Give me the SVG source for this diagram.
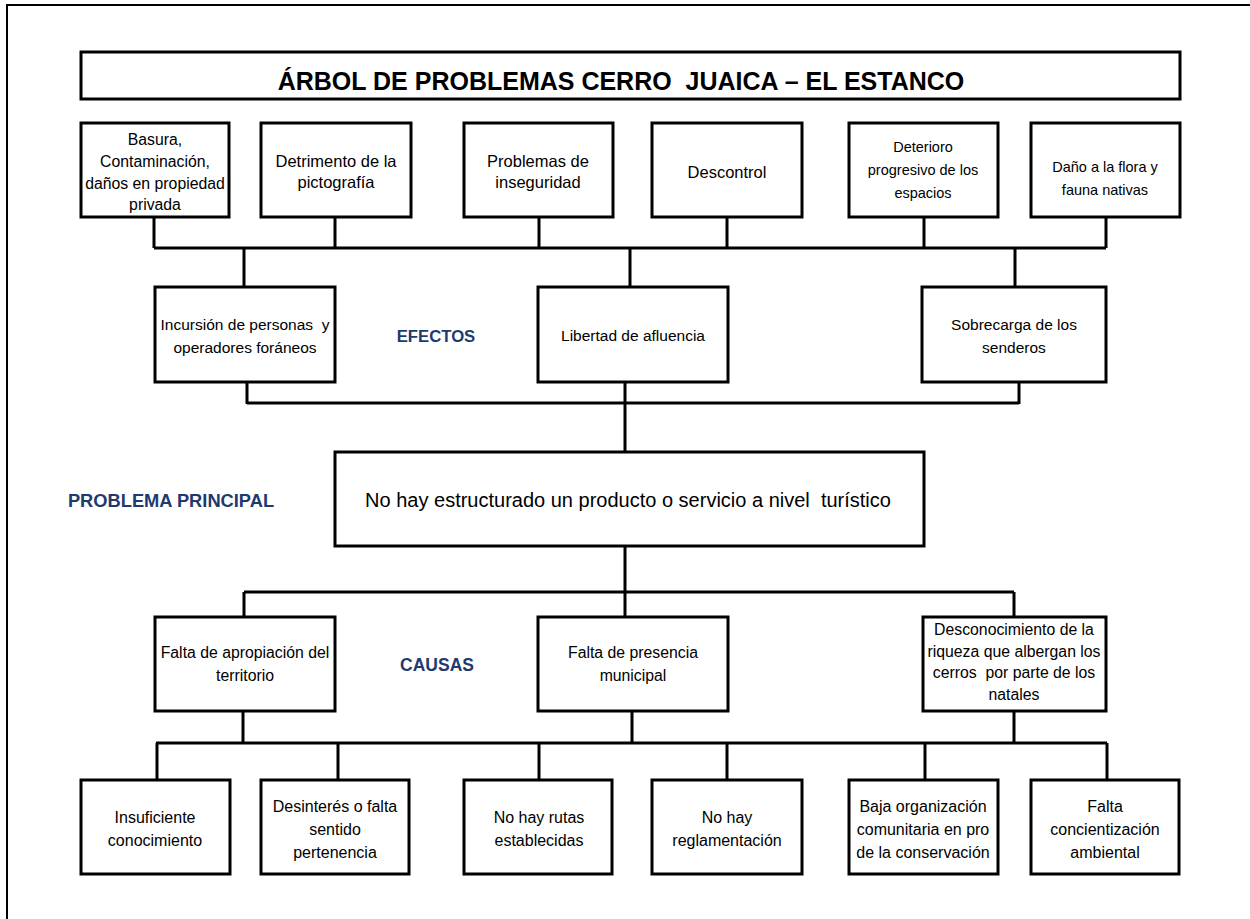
<svg xmlns="http://www.w3.org/2000/svg" width="1250" height="919" viewBox="0 0 1250 919" xml:space="preserve">
<style>
.box{fill:#fff;stroke:#000;stroke-width:3}
.ln{fill:none;stroke:#000;stroke-width:3}
text{font-family:"Liberation Sans",Arial,sans-serif;fill:#000;text-anchor:middle;white-space:pre}
.t16{font-size:16.5px}
.t15{font-size:15.8px}
.t14{font-size:14.5px}
.m14{font-size:15.5px}
.c14{font-size:15.8px}
.b15{font-size:16px}
.lbl{font-size:17.5px;font-weight:bold;fill:#1f3a6e}
</style>
<rect x="0" y="0" width="1250" height="919" fill="#fff"/>
<path d="M7,919 V5 H1250" fill="none" stroke="#000" stroke-width="2"/>
<g id="title">
<rect class="box" x="81" y="52" width="1099" height="47"/>
<text x="621" y="90" style="font-size:25px;font-weight:bold">ÁRBOL DE PROBLEMAS CERRO  JUAICA – EL ESTANCO</text>
</g>
<g id="connectors">
<path class="ln" d="M154,217 V248 M335,217 V248 M539,217 V248 M727,217 V248 M924,217 V248 M1106,217 V248 M154,248 H1106"/>
<path class="ln" d="M244,248 V287 M630,248 V287 M1015,248 V287"/>
<path class="ln" d="M247,382 V404 M1019,382 V404 M247,403 H1019 M625,382 V452"/>
<path class="ln" d="M625,546 V617 M244,592 H1014 M244,592 V617 M1014,592 V617"/>
<path class="ln" d="M243,711 V743 M632,711 V743 M1014,711 V743 M156,743 H1107"/>
<path class="ln" d="M157,743 V780 M338,743 V780 M539,743 V780 M727,743 V780 M925,743 V780 M1107,743 V780"/>
</g>
<g id="e1"><rect class="box" x="81" y="123" width="148" height="94"/>
<text class="t15" x="155" y="145">Basura,</text><text class="t15" x="155" y="167">Contaminación,</text><text class="t15" x="155" y="189">daños en propiedad</text><text class="t15" x="155" y="210">privada</text></g>
<g id="e2"><rect class="box" x="261" y="123" width="150" height="94"/>
<text class="t16" x="336" y="167">Detrimento de la</text><text class="t16" x="336" y="188">pictografía</text></g>
<g id="e3"><rect class="box" x="464" y="123" width="149" height="94"/>
<text class="t16" x="538" y="167">Problemas de</text><text class="t16" x="538" y="188">inseguridad</text></g>
<g id="e4"><rect class="box" x="652" y="123" width="150" height="94"/>
<text class="t16" x="727" y="178">Descontrol</text></g>
<g id="e5"><rect class="box" x="849" y="123" width="149" height="94"/>
<text class="t14" x="923" y="152">Deterioro</text><text class="t14" x="923" y="175">progresivo de los</text><text class="t14" x="923" y="198">espacios</text></g>
<g id="e6"><rect class="box" x="1031" y="123" width="149" height="94"/>
<text class="t14" x="1105" y="172">Daño a la flora y</text><text class="t14" x="1105" y="195">fauna nativas</text></g>
<g id="m1"><rect class="box" x="155" y="287" width="180" height="95"/>
<text class="m14" x="245" y="330">Incursión de personas  y</text><text class="m14" x="245" y="353">operadores foráneos</text></g>
<g id="m2"><rect class="box" x="538" y="287" width="190" height="95"/>
<text class="m14" x="633" y="341">Libertad de afluencia</text></g>
<g id="m3"><rect class="box" x="922" y="287" width="184" height="95"/>
<text class="m14" x="1014" y="330">Sobrecarga de los</text><text class="m14" x="1014" y="353">senderos</text></g>
<g id="lbl-efectos"><text class="lbl" x="436" y="342" style="font-size:16.7px">EFECTOS</text></g>
<g id="lbl-problema"><text class="lbl" x="171" y="507" style="font-size:18.3px">PROBLEMA PRINCIPAL</text></g>
<g id="lbl-causas"><text class="lbl" x="437" y="671">CAUSAS</text></g>
<g id="main"><rect class="box" x="335" y="452" width="589" height="94"/>
<text x="628" y="507" style="font-size:20px">No hay estructurado un producto o servicio a nivel  turístico</text></g>
<g id="c1"><rect class="box" x="155" y="617" width="180" height="94"/>
<text class="c14" x="245" y="658">Falta de apropiación del</text><text class="c14" x="245" y="681">territorio</text></g>
<g id="c2"><rect class="box" x="538" y="617" width="190" height="94"/>
<text class="c14" x="633" y="658">Falta de presencia</text><text class="c14" x="633" y="681">municipal</text></g>
<g id="c3"><rect class="box" x="923" y="617" width="183" height="94"/>
<text class="c14" x="1014" y="635">Desconocimiento de la</text><text class="c14" x="1014" y="657">riqueza que albergan los</text><text class="c14" x="1014" y="678">cerros  por parte de los</text><text class="c14" x="1014" y="700">natales</text></g>
<g id="s1"><rect class="box" x="81" y="780" width="149" height="94"/>
<text class="b15" x="155" y="823">Insuficiente</text><text class="b15" x="155" y="846">conocimiento</text></g>
<g id="s2"><rect class="box" x="261" y="780" width="148" height="94"/>
<text class="b15" x="335" y="812">Desinterés o falta</text><text class="b15" x="335" y="835">sentido</text><text class="b15" x="335" y="858">pertenencia</text></g>
<g id="s3"><rect class="box" x="464" y="780" width="148" height="94"/>
<text class="b15" x="539" y="823">No hay rutas</text><text class="b15" x="539" y="846">establecidas</text></g>
<g id="s4"><rect class="box" x="652" y="780" width="150" height="94"/>
<text class="b15" x="727" y="823">No hay</text><text class="b15" x="727" y="846">reglamentación</text></g>
<g id="s5"><rect class="box" x="849" y="780" width="149" height="94"/>
<text class="b15" x="923" y="812">Baja organización</text><text class="b15" x="923" y="835">comunitaria en pro</text><text class="b15" x="923" y="858">de la conservación</text></g>
<g id="s6"><rect class="box" x="1031" y="780" width="148" height="94"/>
<text class="b15" x="1105" y="812">Falta</text><text class="b15" x="1105" y="835">concientización</text><text class="b15" x="1105" y="858">ambiental</text></g>
</svg>
